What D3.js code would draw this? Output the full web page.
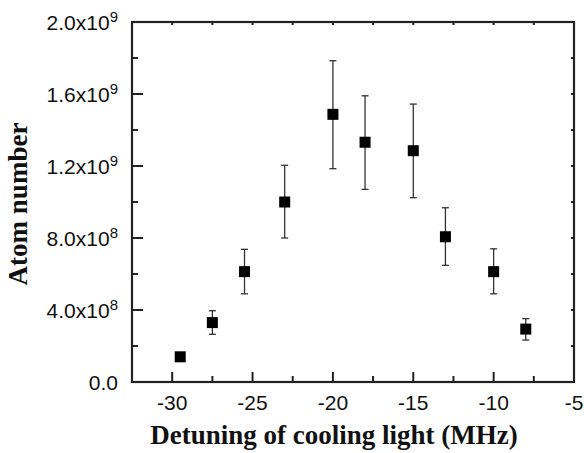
<!DOCTYPE html>
<html>
<head>
<meta charset="utf-8">
<script src="https://cdn.jsdelivr.net/npm/d3@7"></script>
<style>
  html, body { margin: 0; padding: 0; background: #fff; }
  svg { display: block; }
</style>
</head>
<body>
<svg id="chart" width="584" height="453"></svg>
<script>
// detuning (MHz)
const detuning = [-29.5, -27.5, -25.5, -23, -20, -18, -15, -13, -10, -8]
// atom number and error bar ends
const atoms = [1.4e8, 3.3e8, 6.13e8, 1.0e9, 1.487e9, 1.332e9, 1.285e9, 8.07e8, 6.13e8, 2.94e8]
const errHigh = [1.4e8, 3.96e8, 7.37e8, 1.204e9, 1.785e9, 1.59e9, 1.544e9, 9.68e8, 7.4e8, 3.52e8]
const errLow = [1.4e8, 2.65e8, 4.9e8, 8.0e8, 1.185e9, 1.07e9, 1.024e9, 6.48e8, 4.9e8, 2.33e8]

const xTicks = [-30, -25, -20, -15, -10, -5]
const xMinor = [-27.5, -22.5, -17.5, -12.5, -7.5]
const yTicks = [0, 4e8, 8e8, 1.2e9, 1.6e9, 2.0e9]
const yTickText = [["0.0", ""], ["4.0x10", "8"], ["8.0x10", "8"], ["1.2x10", "9"], ["1.6x10", "9"], ["2.0x10", "9"]]
const yMinor = [2e8, 6e8, 1.0e9, 1.4e9, 1.8e9]

const margins = { top: 22, bottom: 71, left: 132, right: 10 }
const svg = d3.select("#chart")
const width = 584 - margins.left - margins.right
const height = 453 - margins.top - margins.bottom

const x = d3.scaleLinear().domain([-32.5, -5]).range([margins.left, margins.left + width])
const y = d3.scaleLinear().domain([0, 2.0e9]).range([margins.top + height, margins.top])

const AXIS_COLOR = "#222"
const g = svg.append("g")

// ticks (drawn inward)
function tick(x1, y1, x2, y2) {
    g.append("line")
        .attr("x1", x1).attr("y1", y1).attr("x2", x2).attr("y2", y2)
        .attr("stroke", AXIS_COLOR).attr("stroke-width", 2)
}
const x0 = x.range()[0], x1 = x.range()[1]
const y0 = y.range()[0], y1 = y.range()[1]

xTicks.forEach(v => { tick(x(v), y0, x(v), y0 - 10); tick(x(v), y1, x(v), y1 + 3) })
xMinor.forEach(v => { tick(x(v), y0, x(v), y0 - 6); tick(x(v), y1, x(v), y1 + 3) })
yTicks.forEach(v => { tick(x0, y(v), x0 + 11, y(v)); tick(x1, y(v), x1 - 3, y(v)) })
yMinor.forEach(v => { tick(x0, y(v), x0 + 6, y(v)); tick(x1, y(v), x1 - 3, y(v)) })

// frame
g.append("rect")
    .attr("x", x0).attr("y", y1)
    .attr("width", x1 - x0).attr("height", y0 - y1)
    .attr("fill", "none")
    .attr("stroke", AXIS_COLOR)
    .attr("stroke-width", 2.2)

// tick labels
g.selectAll(".xlabel")
    .data(xTicks)
    .enter()
    .append("text")
    .attr("class", "xlabel")
    .attr("x", d => x(d))
    .attr("y", y0 + 28)
    .attr("text-anchor", "middle")
    .attr("font-family", "Liberation Sans, Arial, sans-serif")
    .attr("font-size", "21px")
    .attr("fill", "#111")
    .text(d => d)

const ylab = g.selectAll(".ylabel")
    .data(yTicks)
    .enter()
    .append("text")
    .attr("class", "ylabel")
    .attr("x", 118)
    .attr("y", d => y(d))
    .attr("dy", "0.38em")
    .attr("text-anchor", "end")
    .attr("font-family", "Liberation Sans, Arial, sans-serif")
    .attr("font-size", "21px")
    .attr("fill", "#111")
ylab.append("tspan").text((d, i) => yTickText[i][0])
ylab.append("tspan")
    .attr("dy", "-0.55em")
    .attr("font-size", "15px")
    .text((d, i) => yTickText[i][1])

// error bars
const CAP = 3.5
detuning.forEach((d, i) => {
    if (errHigh[i] === errLow[i]) return
    const cx = x(d)
    g.append("line")
        .attr("x1", cx).attr("x2", cx)
        .attr("y1", y(errHigh[i])).attr("y2", y(errLow[i]))
        .attr("stroke", "#333").attr("stroke-width", 1.3)
    ;[errHigh[i], errLow[i]].forEach(v => {
        g.append("line")
            .attr("x1", cx - CAP).attr("x2", cx + CAP)
            .attr("y1", y(v)).attr("y2", y(v))
            .attr("stroke", "#333").attr("stroke-width", 1.3)
    })
})

// markers
const SQ = 11
g.selectAll(".pt")
    .data(detuning)
    .enter()
    .append("rect")
    .attr("class", "pt")
    .attr("x", d => x(d) - SQ / 2)
    .attr("y", (d, i) => y(atoms[i]) - SQ / 2)
    .attr("width", SQ)
    .attr("height", SQ)
    .attr("fill", "#000")

// axis titles
svg.append("text")
    .attr("x", 334)
    .attr("y", 444)
    .attr("text-anchor", "middle")
    .attr("font-family", "Liberation Serif, Times New Roman, serif")
    .attr("font-weight", "bold")
    .attr("font-size", "27px")
    .attr("fill", "#111")
    .text("Detuning of cooling light (MHz)")

svg.append("text")
    .attr("transform", "translate(27," + 204 + ") rotate(-90)")
    .attr("text-anchor", "middle")
    .attr("font-family", "Liberation Serif, Times New Roman, serif")
    .attr("font-weight", "bold")
    .attr("font-size", "27px")
    .attr("fill", "#111")
    .text("Atom number")
</script>
</body>
</html>
